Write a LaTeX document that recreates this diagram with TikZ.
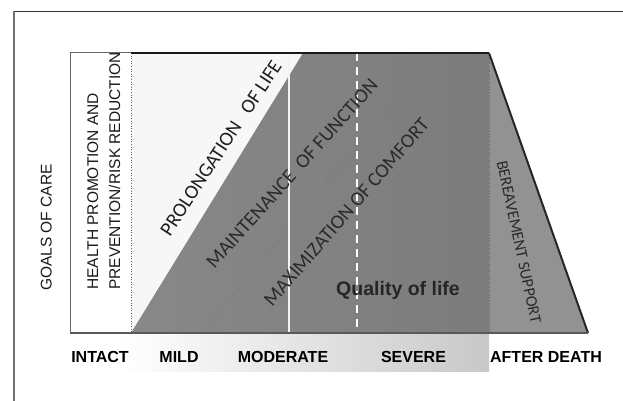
\documentclass[tikz,border=0pt]{standalone}
\usepackage{fontspec}
\setmainfont{Liberation Sans}
\newfontfamily\calib{Carlito}
\definecolor{darkfillL}{HTML}{888888}
\definecolor{darkfillR}{HTML}{7C7C7C}
\definecolor{berfill}{HTML}{929292}
\definecolor{stripR}{HTML}{C8C8C8}
\definecolor{txtdark}{HTML}{2A2A2A}
\tikzset{
  axislabel/.style={font=\fontsize{16}{19}\selectfont\bfseries, inner sep=0pt, anchor=base, text=black},
  sidelabel/.style={font=\fontsize{15.5}{18}\selectfont, inner sep=0pt, rotate=90, text=black!90},
  diaglabel/.style={font=\calib\fontsize{20}{24}\selectfont, inner sep=0pt, text=txtdark},
}
\begin{document}
\begin{tikzpicture}[x=1pt,y=-1pt]
\useasboundingbox (0,0) rectangle (623,401);
% outer frame
\draw[line width=0.8pt, color=black!80] (14,11) -- (623,11);
\draw[line width=2pt, color=black!55] (14,11) -- (14,401);
% key points
\coordinate (bl) at (70,333);
\coordinate (tl) at (70,53);
\coordinate (dt) at (131,53);
\coordinate (db) at (131,333);
\coordinate (wt) at (303,53);
\coordinate (rt) at (489,53);
\coordinate (rb) at (489,333);
\coordinate (sb) at (588,333);
\coordinate (qt) at (435,53);
\coordinate (qb) at (202,333);
\coordinate (vt) at (289,53);
\coordinate (vb) at (289,333);
\coordinate (ht) at (357,53);
\coordinate (hb) at (357,333);
% gradient strip below
\shade[left color=white, right color=stripR] (120,333) rectangle (489,371);
% white region
\fill[white!97!black] (db) -- (dt) -- (wt) -- cycle;
% dark region
\shade[left color=darkfillL, right color=darkfillR] (db) -- (wt) -- (rt) -- (rb) -- cycle;
% bereavement region
\fill[berfill] (rt) -- (sb) -- (rb) -- cycle;
% dotted lines
\draw[dotted, black!60, line width=0.6pt] (dt) -- (db);
\draw[dotted, black!60, line width=0.6pt] (rt) -- (rb);
\draw[densely dotted, black!55, line width=0.5pt] (qb) -- (qt);
% white lines
\draw[white!95!black, line width=2pt] (vt) -- (vb);
\draw[white, line width=2pt, dash pattern=on 8pt off 6pt] (ht) -- (hb);
% outline
\draw[black!60, line width=1pt] (db) -- (bl) -- (tl) -- (dt);
\draw[black!90, line width=2pt] (dt) -- (rt);
\draw[black!85, line width=2pt] (rt) -- (sb);
\draw[black!65, line width=1.6pt] (bl) -- (sb);
% texts
\node[sidelabel, anchor=base] (goals) at (51.5,227.5) {GOALS OF CARE};
\node[sidelabel, anchor=base west] (hp1) at (98,290) {HEALTH PROMOTION AND};
\node[sidelabel, anchor=base west] (hp2) at (120,290) {PREVENTION/RISK REDUCTION};
\node[diaglabel, rotate=56.7, text=black!88] (prol) at (221,148) {PROLONGATION\ \ \ OF LIFE};
\node[diaglabel, rotate=48.2] (maint) at (292,173.5) {MAINTENANCE\ \ OF FUNCTION};
\node[diaglabel, rotate=49.2] (maxim) at (346.5,212) {MAXIMIZATION OF COMFORT};
\node[font=\calib\fontsize{16.3}{19}\selectfont, inner sep=0pt, text=txtdark, rotate=-78] (bere) at (519,242) {BEREAVEMENT SUPPORT};
\node[font=\fontsize{19.5}{23}\selectfont\bfseries, inner sep=0pt, anchor=base, text=black!85] (qol) at (398,295) {Quality of life};
\node[axislabel] (intact) at (100,362) {INTACT};
\node[axislabel] (mild) at (179,362) {MILD};
\node[axislabel] (moderate) at (283,362) {MODERATE};
\node[axislabel] (severe) at (413.5,362) {SEVERE};
\node[axislabel] (after) at (546,362) {AFTER DEATH};
\end{tikzpicture}
\end{document}
